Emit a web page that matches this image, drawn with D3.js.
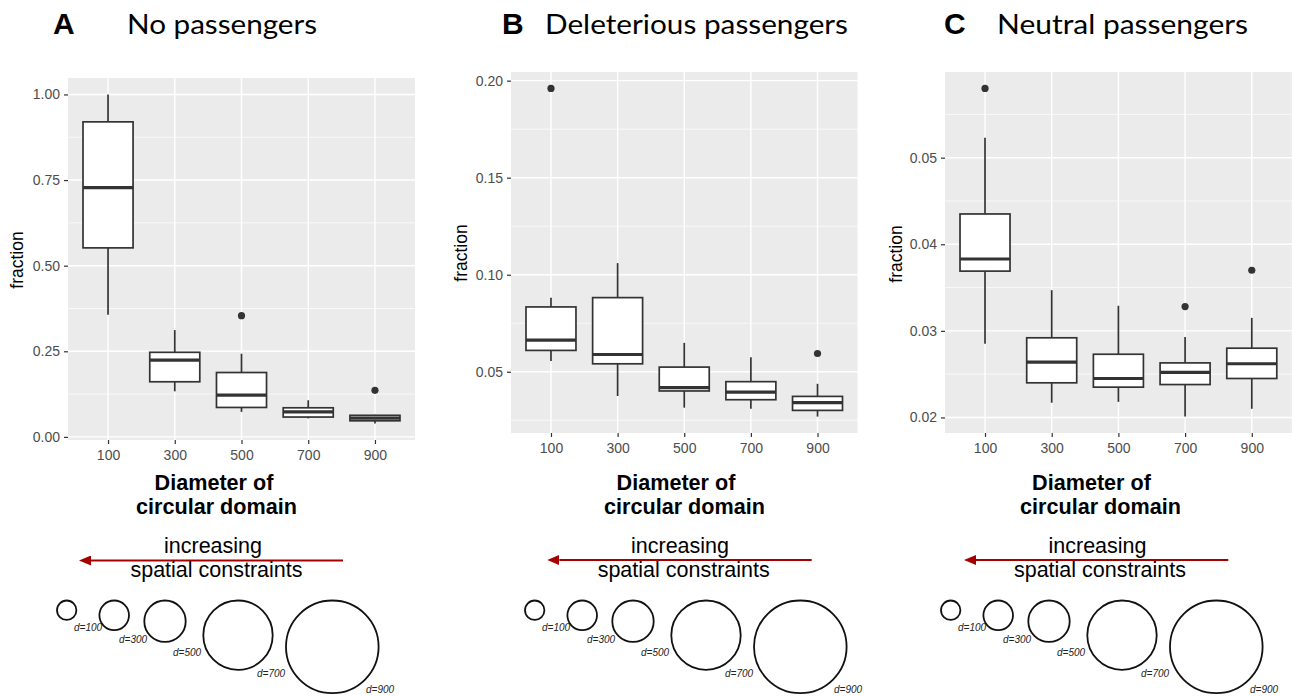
<!DOCTYPE html>
<html>
<head>
<meta charset="utf-8">
<script src="https://cdn.jsdelivr.net/npm/d3@7"></script>
<style>
  body { margin: 0; background: #fff; }
  svg { display: block; }
</style>
</head>
<body>
<svg id="fig" width="1292" height="696"></svg>
<script>
// Domain diameters on the x axis
const categories = ["100", "300", "500", "700", "900"];

// Box summaries per diameter: [lower whisker, Q1, median, Q3, upper whisker]
const noPassengers = [
  [0.357, 0.552, 0.728, 0.920, 1.000],
  [0.133, 0.161, 0.224, 0.247, 0.312],
  [0.073, 0.086, 0.122, 0.188, 0.243],
  [0.054, 0.058, 0.073, 0.085, 0.107],
  [0.039, 0.047, 0.055, 0.063, 0.065]
];
const noPassengersOutliers = [[], [], [0.354], [], [0.136]];

const deleterious = [
  [0.0555, 0.0610, 0.0663, 0.0834, 0.0881],
  [0.0375, 0.0541, 0.0589, 0.0882, 0.1060],
  [0.0315, 0.0401, 0.0418, 0.0524, 0.0649],
  [0.0310, 0.0356, 0.0395, 0.0449, 0.0575],
  [0.0269, 0.0301, 0.0341, 0.0373, 0.0438]
];
const deleteriousOutliers = [[0.196], [], [], [], [0.0594]];

const neutral = [
  [0.0285, 0.0369, 0.0383, 0.0435, 0.0523],
  [0.0217, 0.0240, 0.0264, 0.0292, 0.0347],
  [0.0218, 0.0235, 0.0245, 0.0273, 0.0329],
  [0.0201, 0.0238, 0.0252, 0.0263, 0.0293],
  [0.0210, 0.0245, 0.0262, 0.0280, 0.0315]
];
const neutralOutliers = [[0.0580], [], [], [0.0328], [0.0370]];

// Y tick labels
const ticksNoPassengers = [0.00, 0.25, 0.50, 0.75, 1.00];
const ticksDeleterious = [0.05, 0.10, 0.15, 0.20];
const ticksNeutral = [0.02, 0.03, 0.04, 0.05];

// Schematic domain labels
const domainLabels = ["d=100", "d=300", "d=500", "d=700", "d=900"];

// ---------------------------------------------------------------------------
const SANS = "'Liberation Sans', Arial, Helvetica, sans-serif";
const svg = d3.select("#fig");

// Sketch of the five circular domains (relative to the first panel)
const sketchCx = [66.7, 114.2, 165, 238, 332.3];
const sketchR = [9.7, 14.8, 20.7, 34.7, 46.3];
const sketchTop = 600.5;
const sketchLabelPos = [[74, 631], [119, 642.7], [173, 656], [257, 677], [366, 692.7]];

const panels = [
  { letter: "A", title: "No passengers", stats: noPassengers, outliers: noPassengersOutliers,
    ticks: ticksNoPassengers, x0: 68, x1: 415, y0: 78, y1: 440,
    letterX: 53, titleX: 127, titleW: 190, yLabX: 23, yLabY: 260,
    axT1: 214, axT2: 216.5, incr1: 213, incr2: 216.5, arrowTip: 80, arrowTail: 343, arrowY: 560.5,
    sketchDx: 0 },
  { letter: "B", title: "Deleterious passengers", stats: deleterious, outliers: deleteriousOutliers,
    ticks: ticksDeleterious, x0: 511, x1: 857.5, y0: 72, y1: 433,
    letterX: 502, titleX: 545, titleW: 303, yLabX: 466.5, yLabY: 253,
    axT1: 676, axT2: 684.5, incr1: 680, incr2: 683.7, arrowTip: 548.3, arrowTail: 811.7, arrowY: 560,
    sketchDx: 468 },
  { letter: "C", title: "Neutral passengers", stats: neutral, outliers: neutralOutliers,
    ticks: ticksNeutral, x0: 945, x1: 1291.8, y0: 72, y1: 433,
    letterX: 944, titleX: 997, titleW: 251, yLabX: 901.5, yLabY: 254,
    axT1: 1091.5, axT2: 1100.5, incr1: 1097.5, incr2: 1100, arrowTip: 965, arrowTail: 1228.3, arrowY: 560,
    sketchDx: 884 }
];

// Arrowhead marker
svg.append("defs").append("marker")
  .attr("id", "head")
  .attr("viewBox", "0 0 12 10")
  .attr("refX", 0).attr("refY", 5)
  .attr("markerWidth", 12).attr("markerHeight", 10)
  .attr("markerUnits", "userSpaceOnUse")
  .attr("orient", "auto-start-reverse")
  .append("path").attr("d", "M0,0 L12,5 L0,10 Z").attr("fill", "#a50000");

panels.forEach(p => {
  const g = svg.append("g");

  // y scale with ggplot-style 5% expansion around the data extent
  const all = p.stats.flat().concat(p.outliers.flat());
  const [lo, hi] = d3.extent(all);
  const pad = (hi - lo) * 0.05;
  const y = d3.scaleLinear().domain([lo - pad, hi + pad]).range([p.y1, p.y0]);
  const x = d3.scalePoint().domain(categories).range([p.x0, p.x1]).padding(0.6);
  const step = x.step();
  const boxW = step * 0.75;

  // panel background
  g.append("rect")
    .attr("x", p.x0).attr("y", p.y0)
    .attr("width", p.x1 - p.x0).attr("height", p.y1 - p.y0)
    .attr("fill", "#ebebeb");

  // minor gridlines
  const tStep = p.ticks[1] - p.ticks[0];
  const minor = p.ticks.map(t => t - tStep / 2).concat([p.ticks[p.ticks.length - 1] + tStep / 2])
    .filter(v => v > y.domain()[0] && v < y.domain()[1]);
  g.selectAll(".minor").data(minor).enter().append("line")
    .attr("x1", p.x0).attr("x2", p.x1)
    .attr("y1", d => y(d)).attr("y2", d => y(d))
    .attr("stroke", "#fff").attr("stroke-width", 0.7);

  // major gridlines
  g.selectAll(".majorY").data(p.ticks).enter().append("line")
    .attr("x1", p.x0).attr("x2", p.x1)
    .attr("y1", d => y(d)).attr("y2", d => y(d))
    .attr("stroke", "#fff").attr("stroke-width", 1.4);
  g.selectAll(".majorX").data(categories).enter().append("line")
    .attr("x1", d => x(d)).attr("x2", d => x(d))
    .attr("y1", p.y0).attr("y2", p.y1)
    .attr("stroke", "#fff").attr("stroke-width", 1.4);

  // axes
  const ya = g.append("g").attr("transform", `translate(${p.x0},0)`)
    .call(d3.axisLeft(y).tickValues(p.ticks).tickFormat(d3.format(".2f")).tickSize(4).tickPadding(4));
  const xa = g.append("g").attr("transform", `translate(0,${p.y1})`)
    .call(d3.axisBottom(x).tickSize(4).tickPadding(6));
  [ya, xa].forEach(a => {
    a.select(".domain").remove();
    a.selectAll(".tick line").attr("stroke", "#333").attr("stroke-width", 1.2);
    a.selectAll(".tick text").attr("fill", "#4d4d4d").style("font-family", SANS).style("font-size", "14px");
  });

  // boxes
  const boxes = g.selectAll(".box").data(p.stats).enter().append("g");
  boxes.append("line")
    .attr("x1", (d, i) => x(categories[i])).attr("x2", (d, i) => x(categories[i]))
    .attr("y1", d => y(d[4])).attr("y2", d => y(d[3]))
    .attr("stroke", "#333").attr("stroke-width", 1.7);
  boxes.append("line")
    .attr("x1", (d, i) => x(categories[i])).attr("x2", (d, i) => x(categories[i]))
    .attr("y1", d => y(d[1])).attr("y2", d => y(d[0]))
    .attr("stroke", "#333").attr("stroke-width", 1.7);
  boxes.append("rect")
    .attr("x", (d, i) => x(categories[i]) - boxW / 2)
    .attr("y", d => y(d[3]))
    .attr("width", boxW)
    .attr("height", d => Math.max(0.5, y(d[1]) - y(d[3])))
    .attr("fill", "#fff").attr("stroke", "#333").attr("stroke-width", 1.7);
  boxes.append("line")
    .attr("x1", (d, i) => x(categories[i]) - boxW / 2).attr("x2", (d, i) => x(categories[i]) + boxW / 2)
    .attr("y1", d => y(d[2])).attr("y2", d => y(d[2]))
    .attr("stroke", "#333").attr("stroke-width", 3.2);

  // outliers
  const pts = [];
  p.outliers.forEach((arr, i) => arr.forEach(v => pts.push({ c: categories[i], v })));
  g.selectAll(".out").data(pts).enter().append("circle")
    .attr("cx", d => x(d.c)).attr("cy", d => y(d.v)).attr("r", 3.6)
    .attr("fill", "#333");

  // y axis title
  g.append("text")
    .attr("transform", `translate(${p.yLabX},${p.yLabY}) rotate(-90)`)
    .attr("text-anchor", "middle")
    .style("font-family", SANS).style("font-size", "17.5px").attr("fill", "#000")
    .text("fraction");

  // x axis title (two lines)
  g.append("text").attr("x", p.axT1).attr("y", 490).attr("text-anchor", "middle")
    .style("font-family", SANS).style("font-size", "21.6px").style("font-weight", "bold")
    .text("Diameter of");
  g.append("text").attr("x", p.axT2).attr("y", 514).attr("text-anchor", "middle")
    .style("font-family", SANS).style("font-size", "21.6px").style("font-weight", "bold")
    .text("circular domain");

  // panel letter and title
  g.append("text").attr("x", p.letterX).attr("y", 33.5)
    .style("font-family", SANS).style("font-size", "30px").style("font-weight", "bold")
    .text(p.letter);
  g.append("text").attr("x", p.titleX).attr("y", 33.5)
    .attr("textLength", p.titleW).attr("lengthAdjust", "spacingAndGlyphs")
    .style("font-family", "Lato, 'Open Sans', sans-serif").style("font-size", "26px")
    .text(p.title);

  // arrow: increasing spatial constraints
  g.append("line")
    .attr("x1", p.arrowTail).attr("x2", p.arrowTip + 11)
    .attr("y1", p.arrowY).attr("y2", p.arrowY)
    .attr("stroke", "#a50000").attr("stroke-width", 2)
    .attr("marker-end", "url(#head)");
  g.append("text").attr("x", p.incr1).attr("y", 553.3).attr("text-anchor", "middle")
    .style("font-family", SANS).style("font-size", "21.5px").text("increasing");
  g.append("text").attr("x", p.incr2).attr("y", 577.3).attr("text-anchor", "middle")
    .style("font-family", SANS).style("font-size", "21.5px").text("spatial constraints");

  // circular domains sketch
  g.selectAll(".dom").data(domainLabels).enter().append("circle")
    .attr("cx", (d, i) => sketchCx[i] + p.sketchDx)
    .attr("cy", (d, i) => sketchTop + sketchR[i])
    .attr("r", (d, i) => sketchR[i])
    .attr("fill", "none").attr("stroke", "#111").attr("stroke-width", 1.8);
  g.selectAll(".domlab").data(domainLabels).enter().append("text")
    .attr("x", (d, i) => sketchLabelPos[i][0] + p.sketchDx)
    .attr("y", (d, i) => sketchLabelPos[i][1])
    .style("font-family", SANS).style("font-size", "10px").style("font-style", "italic")
    .attr("fill", "#222")
    .text(d => d);
});
</script>
</body>
</html>
